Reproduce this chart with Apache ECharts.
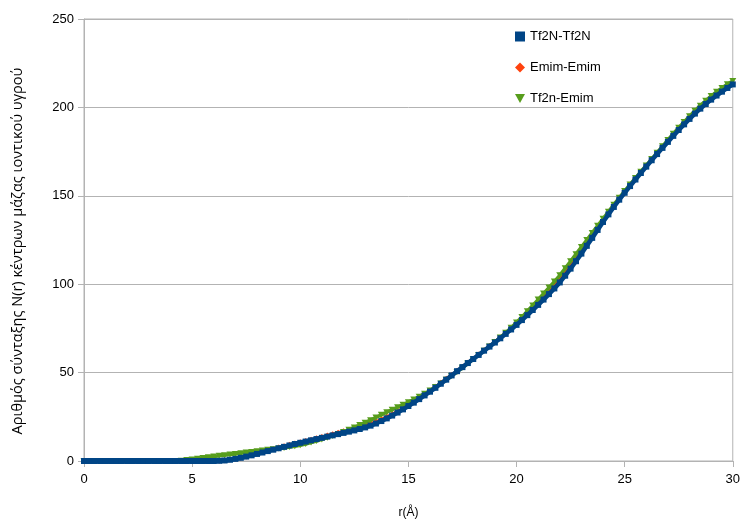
<!DOCTYPE html>
<html>
<head>
<meta charset="utf-8">
<script src="https://cdn.jsdelivr.net/npm/echarts@6/dist/echarts.min.js"></script>
<style>html,body{margin:0;padding:0;background:#fff}#c{width:743px;height:524px}</style>
</head>
<body>
<div id="c"></div>
<script>
// r values (Å), step 0.25 from 0 to 30
const rValues = [];
for (let i = 0; i <= 120; i++) rValues.push(i / 4);

const seriesNames = ['Tf2N-Tf2N', 'Emim-Emim', 'Tf2n-Emim'];
const xTicks = [0, 5, 10, 15, 20, 25, 30];
const yTicks = [0, 50, 100, 150, 200, 250];
const xTitle = 'r(Å)';
const yTitle = 'Αριθμός σύνταξης N(r) κέντρων μάζας ιοντικού υγρού';

const tf2nTf2n = [
  0,0,0,0,0,0,0,0,0,0,0,0,0,0,0,0,0,0,0,0,0,0,0,0,0,
  0.1,0.3,0.7,1.2,1.8,2.5,3.2,4.0,4.8,5.6,6.4,7.2,8.0,8.8,9.6,10.3,
  11.0,11.7,12.4,13.1,13.8,14.5,15.2,15.9,16.6,17.3,18.1,19.0,20.0,21.2,22.6,24.1,
  25.7,27.4,29.2,31.1,33.0,35.0,37.1,39.2,41.4,43.7,46.0,48.4,50.8,53.1,55.4,57.7,
  60.0,62.4,64.7,67.0,69.4,71.9,74.4,77.0,79.7,82.5,85.4,88.3,91.3,94.4,97.6,101.0,
  104.8,108.8,113.0,117.3,121.7,126.2,130.7,135.2,139.5,143.7,147.8,151.7,155.5,159.2,162.9,166.5,
  170.1,173.6,177.1,180.5,183.9,187.2,190.4,193.5,196.5,199.3,201.9,204.4,206.7,208.9,211.0,213.0
];

const emimEmim = [
  0,0,0,0,0,0,0,0,0,0,0,0,0,0,0,0,0,0,0,0,0,0,0,0,0,
  0.1,0.4,0.8,1.3,1.9,2.6,3.3,4.1,4.9,5.8,6.7,7.6,8.4,9.2,9.9,10.6,
  11.3,12.0,12.8,13.6,14.4,15.2,16.0,16.8,17.6,18.4,19.3,20.2,21.2,22.3,23.6,25.0,
  26.5,28.1,29.9,31.8,33.7,35.7,37.7,39.8,42.0,44.2,46.5,48.7,51.0,53.3,55.6,57.9,
  60.2,62.6,65.0,67.4,69.9,72.5,75.2,78.0,80.9,83.9,87.0,90.1,93.3,96.5,99.8,103.3,
  107.0,110.9,114.9,119.0,123.2,127.5,131.8,136.1,140.3,144.4,148.4,152.2,156.0,159.7,163.4,167.0,
  170.6,174.1,177.6,181.0,184.4,187.7,190.9,194.0,197.0,199.8,202.5,205.0,207.4,209.6,211.8,213.8
];

const tf2nEmim = [
  0,0,0,0,0,0,0,0,0,0,0,0,0,0,0,0,0,0,
  0.2,0.5,0.9,1.3,1.7,2.1,2.5,2.9,3.3,3.7,4.0,4.4,4.8,5.1,5.5,5.9,6.3,6.6,7.0,
  7.4,7.9,8.4,8.9,9.6,10.4,11.3,12.2,13.2,14.2,15.3,16.4,17.7,19.0,20.3,21.7,
  23.1,24.6,26.1,27.6,29.0,30.4,31.8,33.3,34.8,36.4,38.1,39.9,41.8,43.8,45.9,48.1,
  50.4,52.8,55.2,57.6,60.0,62.4,64.8,67.3,69.8,72.5,75.3,78.3,81.4,84.7,88.0,91.3,
  94.7,98.1,101.5,105.0,109.0,113.0,117.0,121.0,125.0,129.0,133.0,137.0,141.0,145.0,148.9,152.7,
  156.4,160.0,163.6,167.2,170.8,174.4,178.0,181.6,185.1,188.5,191.8,195.0,198.1,201.0,203.8,206.4,
  208.8,211.0,213.1,215.0
];

function pairs(ys) { return rValues.map((r, i) => [r, ys[i]]); }

const triDown = 'path://M0,0L10,0L5,9Z';
const FONT = '"Liberation Sans", Arial, sans-serif';

const chart = echarts.init(document.getElementById('c'), null, {renderer: 'canvas'});
chart.setOption({
  animation: false,
  backgroundColor: '#ffffff',
  grid: {left: 84, right: 10, top: 19, bottom: 59, show: true, borderColor: '#b3b3b3', borderWidth: 1},
  legend: {
    orient: 'vertical', left: 510, top: 25, itemWidth: 10, itemHeight: 10, itemGap: 18,
    textStyle: {fontFamily: FONT, fontSize: 13, color: '#000'},
    data: [
      {name: seriesNames[0], icon: 'rect'},
      {name: seriesNames[1], icon: 'diamond'},
      {name: seriesNames[2], icon: triDown}
    ]
  },
  graphic: [{
    type: 'text', x: 18, y: 251, rotation: Math.PI / 2,
    style: {text: yTitle, fontFamily: '"Open Sans", sans-serif', fontSize: 14.5, fill: '#000',
            align: 'center', verticalAlign: 'middle'}
  }],
  xAxis: {
    type: 'value', min: xTicks[0], max: xTicks[xTicks.length - 1], interval: 5,
    name: xTitle, nameLocation: 'middle', nameGap: 46,
    nameTextStyle: {fontFamily: FONT, fontSize: 12, color: '#000'},
    axisLine: {lineStyle: {color: '#b3b3b3'}},
    axisTick: {show: true, length: 6, lineStyle: {color: '#b3b3b3'}},
    axisLabel: {fontFamily: FONT, fontSize: 13, color: '#000', margin: 12},
    splitLine: {show: false}
  },
  yAxis: {
    type: 'value', min: yTicks[0], max: yTicks[yTicks.length - 1], interval: 50,
    axisLine: {show: true, lineStyle: {color: '#b3b3b3'}},
    axisTick: {show: true, length: 6, lineStyle: {color: '#b3b3b3'}},
    axisLabel: {fontFamily: FONT, fontSize: 13, color: '#000', margin: 10},
    splitLine: {show: true, lineStyle: {color: '#b3b3b3', width: 1}}
  },
  series: [
    {
      name: seriesNames[0], type: 'line', data: pairs(tf2nTf2n), z: 5,
      symbol: 'rect', symbolSize: 6, showSymbol: true,
      itemStyle: {color: '#004586'}, lineStyle: {color: '#004586', width: 4.5}
    },
    {
      name: seriesNames[1], type: 'line', data: pairs(emimEmim), z: 2,
      symbol: 'diamond', symbolSize: 6, showSymbol: true,
      itemStyle: {color: '#ff420e'}, lineStyle: {color: '#ff420e', width: 3}
    },
    {
      name: seriesNames[2], type: 'line', data: pairs(tf2nEmim), z: 3,
      symbol: triDown, symbolSize: [7, 6], showSymbol: true,
      itemStyle: {color: '#579d1c'}, lineStyle: {color: '#579d1c', width: 3.5}
    }
  ]
});
</script>
</body>
</html>
